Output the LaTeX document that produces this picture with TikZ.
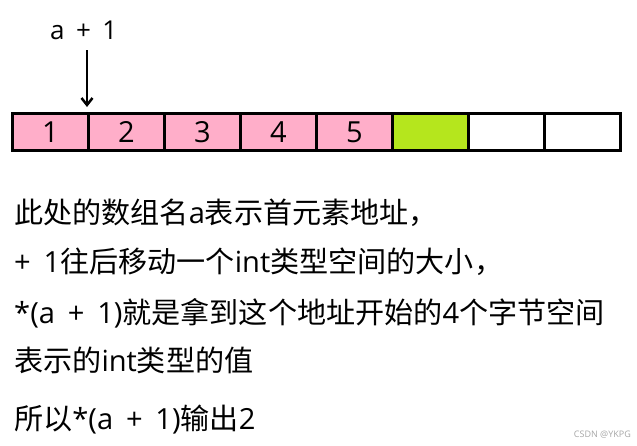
\documentclass[tikz,border=0pt]{standalone}
\usepackage{fontspec}
\setmainfont{Open Sans}
\newfontfamily\cjk{Noto Sans CJK SC}
\usetikzlibrary{arrows.meta}
\definecolor{cellpink}{HTML}{FFAEC9}
\definecolor{cellgreen}{HTML}{B5E61D}
\newcommand{\sps}{\hspace{0.44em}}
\begin{document}
\begin{tikzpicture}[x=1pt,y=-1pt,
  cell/.style={draw=black,line width=3pt,minimum width=76pt,minimum height=37pt,inner sep=0pt,anchor=north west,font=\fontsize{29}{29}\selectfont},
  txt/.style={anchor=base west,inner sep=0pt,font=\fontsize{29.1}{29.1}\selectfont}]
\useasboundingbox (0,0) rectangle (637,445);
\node[cell,fill=cellpink] (c1) at (11,112) {1};
\node[cell,fill=cellpink] (c2) at (87,112) {2};
\node[cell,fill=cellpink] (c3) at (163,112) {3};
\node[cell,fill=cellpink] (c4) at (239,112) {4};
\node[cell,fill=cellpink] (c5) at (315,112) {5};
\node[cell,fill=cellgreen] (c6) at (391,112) {};
\node[cell,fill=white] (c7) at (467,112) {};
\node[cell,fill=white] (c8) at (543,112) {};
\node[anchor=base west,inner sep=0pt,font=\fontsize{26}{26}\selectfont] (lbl) at (50,39) {a\sps+\sps1};
\coordinate (astart) at (87,50);
\coordinate (aend) at (87,107);
\draw[line width=2.5pt,-{Straight Barb[length=7pt,width=11pt]}] (astart) -- (aend);
\node[txt] (t1) at (14,223) {{\cjk 此处的数组名}a{\cjk 表示首元素地址，}};
\node[txt] (t2) at (14,272) {+\sps1{\cjk 往后移动一个}int{\cjk 类型空间的大小，}};
\node[txt] (t3) at (14,323) {*(a\sps+\sps1){\cjk 就是拿到这个地址开始的}4{\cjk 个字节空间}};
\node[txt] (t4) at (14,371) {{\cjk 表示的}int{\cjk 类型的值}};
\node[txt] (t5) at (14,429) {{\cjk 所以}*(a\sps+\sps1){\cjk 输出}2};
\node[anchor=base east,inner sep=0pt,text=black!35,font=\fontsize{9}{9}\selectfont] (wm) at (631,437) {CSDN @YKPG};
\end{tikzpicture}
\end{document}
